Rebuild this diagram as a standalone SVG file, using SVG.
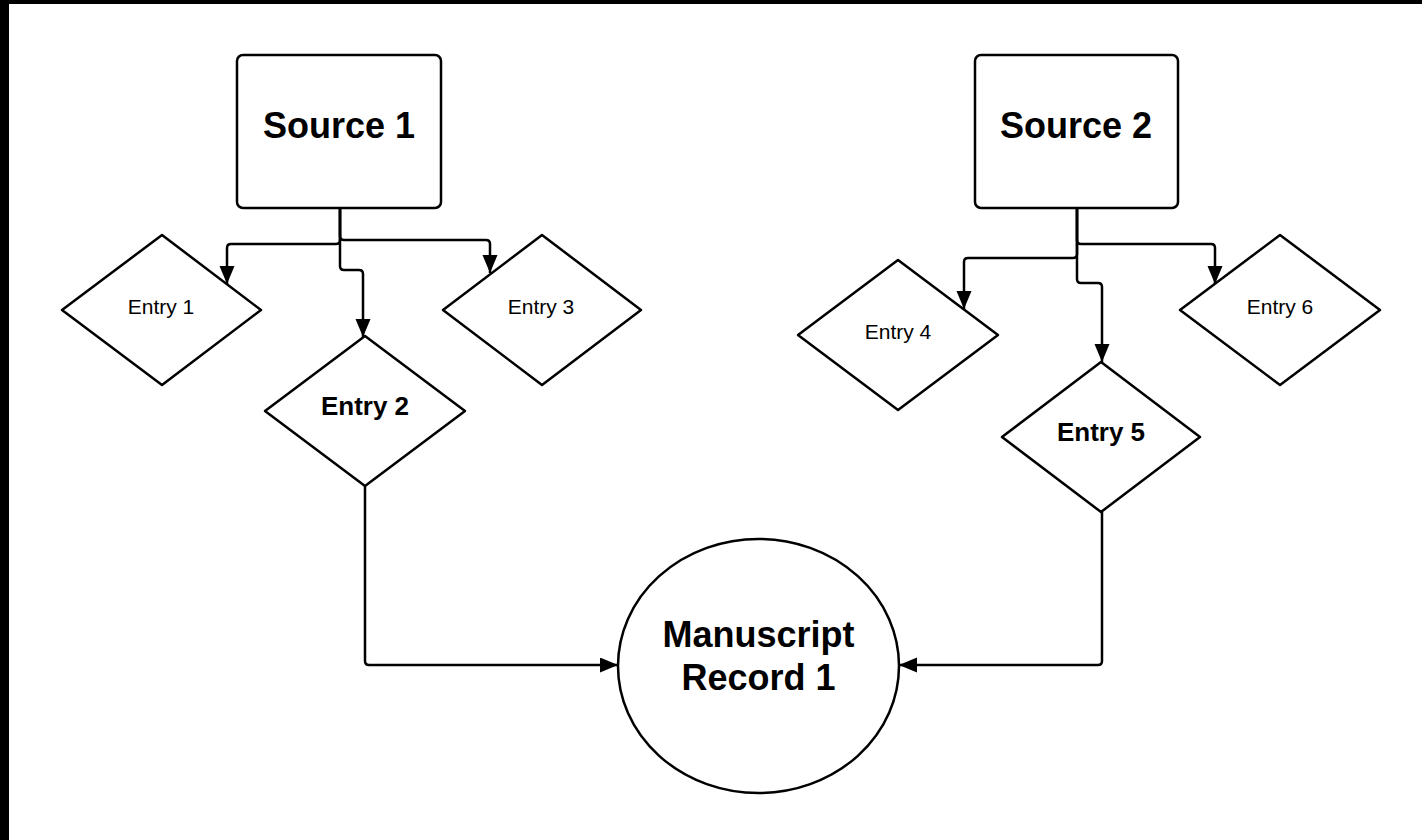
<svg xmlns="http://www.w3.org/2000/svg" width="1422" height="840" viewBox="0 0 1422 840">
<style>
.shape{fill:#fff;stroke:#000;stroke-width:2.5;stroke-linejoin:round}
.conn{fill:none;stroke:#000;stroke-width:2.5;stroke-linejoin:round}
.t{font-family:"Liberation Sans",Arial,sans-serif;fill:#000;text-anchor:middle}
.big{font-size:36px;font-weight:bold}
.mid{font-size:26px;font-weight:bold}
.small{font-size:21px}
</style>
<defs>
<marker id="arr" markerUnits="userSpaceOnUse" markerWidth="19" markerHeight="16" refX="18" refY="7.5" orient="auto">
<path d="M0,0 L18,7.5 L0,15 z" fill="#000"/>
</marker>
</defs>
<rect x="0" y="0" width="1422" height="840" fill="#fff"/>
<rect x="0" y="0" width="1422" height="4" fill="#000"/>
<rect x="0" y="0" width="9" height="840" fill="#000"/>
<g id="connectors">
<path class="conn" marker-end="url(#arr)" d="M340,208 V236 Q340,240 344,240 H486 Q490,240 490,244 V273"/>
<path class="conn" marker-end="url(#arr)" d="M340,208 V240 Q340,244 336,244 H231 Q227,244 227,248 V284"/>
<path class="conn" marker-end="url(#arr)" d="M340,208 V266 Q340,270 344,270 H359 Q363,270 363,274 V337"/>
<path class="conn" marker-end="url(#arr)" d="M1077,208 V240 Q1077,244 1081,244 H1211 Q1215,244 1215,248 V284"/>
<path class="conn" marker-end="url(#arr)" d="M1077,208 V254 Q1077,258 1073,258 H968 Q964,258 964,262 V309"/>
<path class="conn" marker-end="url(#arr)" d="M1077,208 V279 Q1077,283 1081,283 H1098 Q1102,283 1102,287 V362"/>
<path class="conn" marker-end="url(#arr)" d="M365,486 V661 Q365,665 369,665 H618"/>
<path class="conn" marker-end="url(#arr)" d="M1102,512 V661 Q1102,665 1098,665 H899"/>
</g>
<g id="source1">
<rect class="shape" x="237" y="55" width="204" height="153" rx="6"/>
<text class="t big" x="339" y="138">Source 1</text>
</g>
<g id="source2">
<rect class="shape" x="975" y="55" width="203" height="153" rx="6"/>
<text class="t big" x="1076" y="138">Source 2</text>
</g>
<g id="entry1">
<polygon class="shape" points="62,310 162,235 261,310 162,385"/>
<text class="t small" x="161" y="314">Entry 1</text>
</g>
<g id="entry2">
<polygon class="shape" points="265,411 365,336 465,411 365,486"/>
<text class="t mid" x="365" y="415">Entry 2</text>
</g>
<g id="entry3">
<polygon class="shape" points="443,310 542,235 641,310 542,385"/>
<text class="t small" x="541" y="314">Entry 3</text>
</g>
<g id="entry4">
<polygon class="shape" points="798,335 898,260 998,335 898,410"/>
<text class="t small" x="898" y="339">Entry 4</text>
</g>
<g id="entry5">
<polygon class="shape" points="1002,437 1101,362 1200,437 1101,512"/>
<text class="t mid" x="1101" y="441">Entry 5</text>
</g>
<g id="entry6">
<polygon class="shape" points="1180,310 1280,235 1380,310 1280,385"/>
<text class="t small" x="1280" y="314">Entry 6</text>
</g>
<g id="manuscript">
<ellipse class="shape" cx="758.5" cy="666" rx="140.5" ry="127"/>
<text class="t big" x="758.5" y="647">Manuscript</text>
<text class="t big" x="758.5" y="690">Record 1</text>
</g>
</svg>
